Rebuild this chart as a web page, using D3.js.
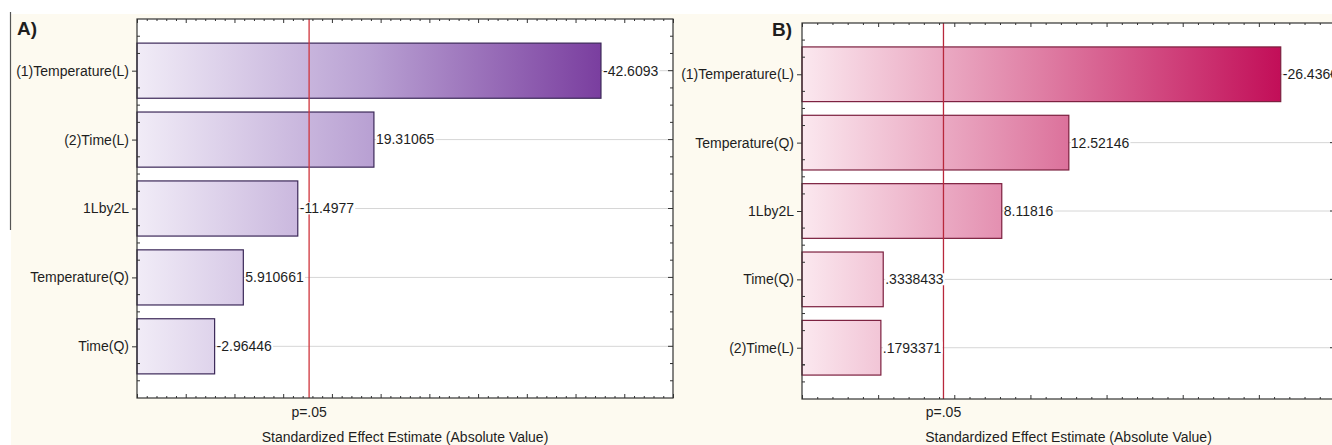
<!DOCTYPE html>
<html>
<head>
<meta charset="utf-8">
<script src="https://cdn.jsdelivr.net/npm/d3@7"></script>
<style>
  html, body { margin: 0; padding: 0; background: #ffffff; }
  svg { display: block; }
  text { font-family: "Liberation Sans", Arial, sans-serif; fill: #1e1e1e; }
</style>
</head>
<body>
<svg id="chart" width="1332" height="445"></svg>
<script>
// Pareto charts of standardized effects for two responses
const factorsA = ["(1)Temperature(L)", "(2)Time(L)", "1Lby2L", "Temperature(Q)", "Time(Q)"];
const effectsA = [-42.6093, 19.31065, -11.4977, 5.910661, -2.96446];
const pCritA = 12.66;

const factorsB = ["(1)Temperature(L)", "Temperature(Q)", "1Lby2L", "Time(Q)", "(2)Time(L)"];
const effectsB = [-26.4366, 12.52146, 8.11816, 0.3338433, 0.1793371];
const pCritB = 4.29;

const domainA = [-5, 50];
const domainB = [-5, 30];
const panelTags = ["A)", "B)"];
const pLabel = "p=.05";
const axisTitle = "Standardized Effect Estimate (Absolute Value)";

const svg = d3.select("#chart");
const defs = svg.append("defs");

// cream page behind both panels
svg.append("rect").attr("x", 11).attr("y", 14).attr("width", 1321).attr("height", 431).attr("fill", "#fdfaf0");
svg.append("line").attr("x1", 10.5).attr("x2", 10.5).attr("y1", 12).attr("y2", 230)
  .attr("stroke", "#555").attr("stroke-width", 1.2);

// Statistica-style number format: drop the leading zero
const fmt = v => String(v).replace(/^(-?)0\./, "$1.");

function drawPanel(cfg) {
  const { id, factors, effects, pCrit, domain, box, tag, tagPos, colors } = cfg;
  const g = svg.append("g");

  const x = d3.scaleLinear().domain(domain).range([box.left, box.right]);
  const y = d3.scalePoint().domain(factors).range([box.top, box.bottom]).padding(0.75);
  const step = y.step();
  const barH = step * 0.8;
  const maxAbs = d3.max(effects, d => Math.abs(d));

  // shared horizontal gradient for the bars
  const grad = defs.append("linearGradient").attr("id", "grad" + id)
    .attr("gradientUnits", "userSpaceOnUse")
    .attr("x1", x(domain[0])).attr("x2", x(maxAbs)).attr("y1", 0).attr("y2", 0);
  colors.stops.forEach(s => grad.append("stop").attr("offset", s[0]).attr("stop-color", s[1]));

  // plot area
  g.append("rect").attr("x", box.left).attr("y", box.top)
    .attr("width", box.right - box.left).attr("height", box.bottom - box.top).attr("fill", "#fff");

  // grid lines at category centres
  g.append("g").selectAll("line").data(factors).join("line")
    .attr("x1", box.left).attr("x2", box.right)
    .attr("y1", d => y(d)).attr("y2", d => y(d))
    .attr("stroke", "#d6d6d6").attr("stroke-width", 1);

  // bars
  g.append("g").selectAll("rect").data(factors).join("rect")
    .attr("x", x(domain[0]))
    .attr("y", d => y(d) - barH / 2)
    .attr("width", (d, i) => x(Math.abs(effects[i])) - x(domain[0]))
    .attr("height", barH)
    .attr("fill", `url(#grad${id})`)
    .attr("stroke", colors.stroke).attr("stroke-width", 1.2);

  // critical value line
  g.append("line").attr("x1", x(pCrit)).attr("x2", x(pCrit))
    .attr("y1", box.top).attr("y2", box.bottom)
    .attr("stroke", colors.crit).attr("stroke-width", 1.3);

  // value labels with white backing
  const lab = g.append("g").selectAll("g").data(factors).join("g");
  lab.append("rect").attr("class", "bg").attr("fill", "#fff");
  lab.append("text")
    .attr("x", (d, i) => x(Math.abs(effects[i])) + 2)
    .attr("y", d => y(d))
    .attr("dy", "0.35em")
    .attr("font-size", 14)
    .text((d, i) => fmt(effects[i]));
  lab.each(function () {
    const t = d3.select(this).select("text").node().getBBox();
    d3.select(this).select("rect.bg").attr("x", t.x).attr("y", t.y + 2).attr("width", t.width + 1).attr("height", t.height - 4);
  });

  // x ticks on top and bottom (inside)
  const majors = d3.range(domain[0], domain[1] + 0.001, 5);
  const minors = d3.range(domain[0], domain[1] + 0.001, 1).filter(v => v % 5 !== 0);
  [[d3.axisBottom, box.bottom], [d3.axisTop, box.top]].forEach(([ax, yy]) => {
    [[majors, -4], [minors, -2]].forEach(([vals, size]) => {
      const a = g.append("g").attr("transform", `translate(0,${yy})`)
        .call(ax(x).tickValues(vals).tickSize(size).tickFormat(""));
      a.select(".domain").remove();
      a.selectAll("line").attr("stroke", "#333");
    });
  });

  // y axis: category labels with outward ticks
  const ya = g.append("g").attr("transform", `translate(${box.left},0)`)
    .call(d3.axisLeft(y).tickSize(5).tickPadding(3));
  ya.select(".domain").remove();
  ya.selectAll("line").attr("stroke", "#333");
  ya.selectAll("text").attr("font-size", 14).attr("fill", "#1e1e1e")
    .style("font-family", '"Liberation Sans", Arial, sans-serif');

  // minor ticks at quarter steps on both vertical sides, plus major on right
  const quarter = [];
  factors.forEach(f => [-0.5, -0.25, 0.25].forEach(k => quarter.push(y(f) + k * step)));
  quarter.push(y(factors[factors.length - 1]) + 0.25 * step, y(factors[factors.length - 1]) + 0.5 * step);
  g.append("g").selectAll("line").data(quarter).join("line")
    .attr("x1", box.left).attr("x2", box.left + 3).attr("y1", d => d).attr("y2", d => d).attr("stroke", "#333");
  g.append("g").selectAll("line").data(quarter).join("line")
    .attr("x1", box.right).attr("x2", box.right - 3).attr("y1", d => d).attr("y2", d => d).attr("stroke", "#333");
  g.append("g").selectAll("line").data(factors).join("line")
    .attr("x1", box.right).attr("x2", box.right - 5).attr("y1", d => y(d)).attr("y2", d => y(d)).attr("stroke", "#333");

  // frame
  g.append("rect").attr("x", box.left).attr("y", box.top)
    .attr("width", box.right - box.left).attr("height", box.bottom - box.top)
    .attr("fill", "none").attr("stroke", "#333").attr("stroke-width", 1.2);

  // p label and axis title
  g.append("text").attr("x", x(pCrit)).attr("y", 417).attr("text-anchor", "middle")
    .attr("font-size", 14).text(pLabel);
  g.append("text").attr("x", (box.left + box.right) / 2).attr("y", 442).attr("text-anchor", "middle")
    .attr("font-size", 14).text(axisTitle);

  // panel tag
  g.append("text").attr("x", tagPos[0]).attr("y", tagPos[1])
    .attr("font-size", 19).attr("font-weight", "bold").attr("fill", "#111").text(tag);
}

drawPanel({
  id: "A", factors: factorsA, effects: effectsA, pCrit: pCritA, domain: domainA,
  box: { left: 137, right: 673, top: 19, bottom: 398 },
  tag: panelTags[0], tagPos: [17, 35],
  colors: { stops: [[0, "#f1ecf7"], [0.5, "#b9a1d3"], [1, "#7a3e9f"]], stroke: "#3b2858", crit: "#d0353c" }
});

drawPanel({
  id: "B", factors: factorsB, effects: effectsB, pCrit: pCritB, domain: domainB,
  box: { left: 802, right: 1335, top: 23, bottom: 399 },
  tag: panelTags[1], tagPos: [772, 36],
  colors: { stops: [[0, "#fbe8ef"], [0.5, "#df7ea4"], [1, "#c20e58"]], stroke: "#7b1f3e", crit: "#b8283c" }
});
</script>
</body>
</html>
